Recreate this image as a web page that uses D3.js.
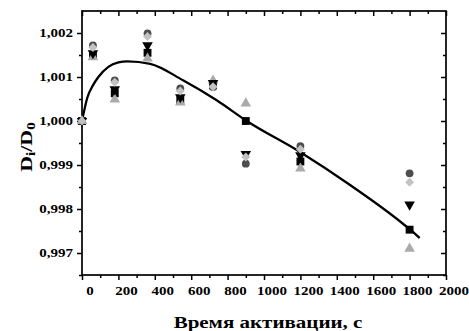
<!DOCTYPE html>
<html>
<head>
<meta charset="utf-8">
<script src="https://cdn.jsdelivr.net/npm/d3@7"></script>
<style>
  html, body { margin: 0; padding: 0; background: #fff; }
  svg { display: block; }
  text { font-family: "Liberation Serif", "Times New Roman", serif; font-weight: bold; fill: #000; }
</style>
</head>
<body>
<svg id="chart" width="469" height="331"></svg>
<script>
// Activation time, s
const times = [0, 60, 180, 360, 540, 720, 900, 1200, 1800];

// Di/D0 for each sample series
const seriesSquare   = [1.0000, 1.00149, 1.00063, 1.00155, 1.00047, 1.00081, 1.00000, 0.99908, 0.99753];
const seriesCircle   = [1.0000, 1.00172, 1.000925, 1.00199, 1.00074, 1.00077, 0.99903, 0.99943, 0.99881];
const seriesUpTri    = [1.0000, 1.00145, 1.00049, 1.00142, 1.00042, 1.00092, 1.00040, 0.99892, 0.99710];
const seriesDownTri  = [1.0000, 1.00154, 1.00072, 1.00172, 1.00054, 1.00086, 0.99925, 0.99922, 0.99810];
const seriesDiamond  = [1.0000, 1.00167, 1.00088, 1.00192, 1.00068, 1.00078, 0.99918, 0.99936, 0.99861];

// Trend curve
const curveT = [0, 30, 60, 90, 145, 200, 250, 375, 555, 740, 905, 1200, 1475, 1800, 1855];
const curveV = [1.0000, 1.00054, 1.00081, 1.00100, 1.00123, 1.00133, 1.001357, 1.00130, 1.000925, 1.00047, 1.00000, 0.99929, 0.99854, 0.99754, 0.99734];

// Axis ticks
const xTicks = [0, 200, 400, 600, 800, 1000, 1200, 1400, 1600, 1800, 2000];
const yTicks = [0.997, 0.998, 0.999, 1.000, 1.001, 1.002];
const minorX = [100, 300, 500, 700, 900, 1100, 1300, 1500, 1700, 1900];
const minorY = [0.9965, 0.9975, 0.9985, 0.9995, 1.0005, 1.0015];

const svg = d3.select("#chart");
const plotL = 82, plotR = 446, plotT = 11, plotB = 275;
const x = d3.scaleLinear().domain([0, 2000]).range([plotL, plotR]);
const y = d3.scaleLinear().domain([0.9965, 1.0025]).range([plotB, plotT]);
const SX = 1.2; // horizontal widening of the glyphs

const fmtY = v => d3.format(".3f")(v).replace(".", ",");

// Axes: bottom/left ticks outward, top/right mirrored ticks pointing inward
function ticksAt(tr, axisFn, scale, major, minor) {
  const g = svg.append("g").attr("transform", tr)
    .call(axisFn(scale).tickValues(major).tickSize(5).tickFormat(""));
  g.append("g").call(axisFn(scale).tickValues(minor).tickSize(3).tickFormat(""));
}
ticksAt(`translate(0,${plotB})`, d3.axisBottom, x, xTicks, minorX);
ticksAt(`translate(0,${plotT})`, d3.axisBottom, x, xTicks, minorX);
ticksAt(`translate(${plotL},0)`, d3.axisLeft, y, yTicks, minorY);
ticksAt(`translate(${plotR},0)`, d3.axisLeft, y, yTicks, minorY);

svg.selectAll(".domain").remove();
svg.selectAll(".tick line").attr("stroke", "#000").attr("stroke-width", 1.5);

svg.append("rect")
  .attr("x", plotL).attr("y", plotT)
  .attr("width", plotR - plotL).attr("height", plotB - plotT)
  .attr("fill", "none").attr("stroke", "#000").attr("stroke-width", 1.7);

// Text helper with widened glyphs
function label(px, py, txt, size, anchor) {
  return svg.append("g")
    .attr("transform", `translate(${px},${py}) scale(${SX},1)`)
    .append("text")
    .attr("font-size", size)
    .attr("text-anchor", anchor || "middle")
    .text(txt);
}

xTicks.forEach(v => label(x(v) + 8, 295, String(v), 12.5, "middle"));
yTicks.forEach(v => label(73, y(v) + 4.3, fmtY(v), 12.5, "end"));

// Axis titles
label(268, 328, "Время активации, с", 17.5, "middle");

const yt = svg.append("g")
  .attr("transform", `translate(32,147) rotate(-90) scale(1.25,1)`)
  .append("text").attr("font-size", 17.5).attr("text-anchor", "middle");
yt.append("tspan").text("D");
yt.append("tspan").attr("font-size", 12).attr("dy", 3).text("i");
yt.append("tspan").attr("dy", -3).text("/D");
yt.append("tspan").attr("font-size", 12).attr("dy", 3).text("0");

// Trend curve
const lineGen = d3.line().x(d => x(d[0])).y(d => y(d[1])).curve(d3.curveMonotoneX);
svg.append("path")
  .datum(curveT.map((t, i) => [t, curveV[i]]))
  .attr("d", lineGen)
  .attr("fill", "none").attr("stroke", "#000").attr("stroke-width", 2.3);

// Markers
const series = [
  { vals: seriesSquare,  sym: d3.symbolSquare,   size: 62, color: "#000" },
  { vals: seriesCircle,  sym: d3.symbolCircle,   size: 48, color: "#4d4d4d" },
  { vals: seriesUpTri,   sym: d3.symbolTriangle, size: 48, color: "#aaaaaa", rot: 0 },
  { vals: seriesDownTri, sym: d3.symbolTriangle, size: 48, color: "#000", rot: 180 },
  { vals: seriesDiamond, sym: d3.symbolSquare,   size: 40, color: "#c2c2c2", rot: 45 }
];

series.forEach(s => {
  svg.append("g").selectAll("path")
    .data(times.map((t, i) => [t, s.vals[i]]))
    .join("path")
    .attr("d", d3.symbol().type(s.sym).size(s.size))
    .attr("transform", d => `translate(${x(d[0])},${y(d[1])}) rotate(${s.rot || 0})`)
    .attr("fill", s.color);
});
</script>
</body>
</html>
